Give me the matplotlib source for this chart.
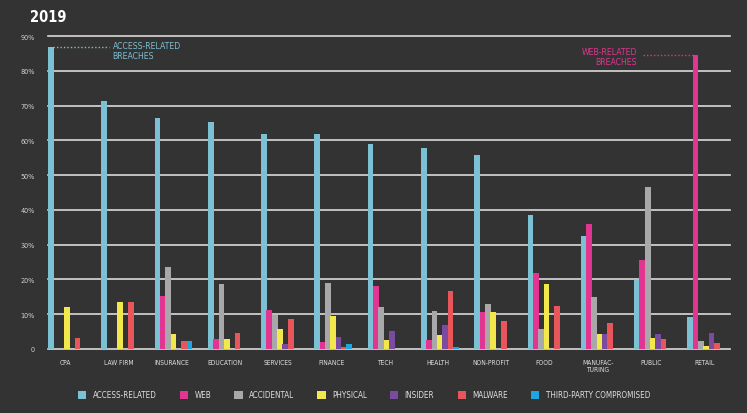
"""Breach types by industry, 2019 — grouped bar chart on a dark background."""

import numpy as np
import matplotlib
matplotlib.use('Agg')
import matplotlib.pyplot as plt
from matplotlib.patches import Patch

# --- data (percent of breaches) ---
industries = ["CPA", "LAW FIRM", "INSURANCE", "EDUCATION", "SERVICES", "FINANCE", "TECH",
              "HEALTH", "NON-PROFIT", "FOOD", "MANUFAC-\nTURING", "PUBLIC", "RETAIL"]
series_names = ["ACCESS-RELATED", "WEB", "ACCIDENTAL", "PHYSICAL", "INSIDER", "MALWARE",
                "THIRD-PARTY COMPROMISED"]

access     = [86.8, 71.3, 66.4, 65.2, 61.8, 61.8, 58.9, 57.8, 55.7, 38.5, 32.5, 19.8, 9.2]
web        = [0, 0, 15.3, 2.9, 11.3, 2.0, 18.2, 2.7, 10.6, 21.8, 35.9, 25.6, 84.5]
accidental = [0, 0, 23.6, 18.7, 9.8, 19.0, 12.1, 10.9, 12.9, 5.7, 15.0, 46.6, 2.3]
physical   = [12.2, 13.5, 4.4, 2.9, 5.8, 9.5, 2.7, 4.0, 10.7, 18.7, 4.3, 3.2, 0.9]
insider    = [0, 0, 0, 0, 1.4, 3.4, 5.2, 6.9, 0, 0, 4.3, 4.3, 4.6]
malware    = [3.2, 13.5, 2.3, 4.6, 8.6, 0.7, 0, 16.7, 8.0, 12.4, 7.6, 2.9, 1.7]
third      = [0, 0, 2.3, 0, 0, 1.4, 0, 0.7, 0, 0, 0, 0, 0]

yticks = [0, 10, 20, 30, 40, 50, 60, 70, 80, 90]
ytick_labels = ["0", "10%", "20%", "30%", "40%", "50%", "60%", "70%", "80%", "90%"]

colors = ["#7cc0d4", "#e23592", "#a8a7aa", "#f2e84c", "#7a4b9e", "#e8555b", "#1fa5e2"]
BG = "#333333"
GRID = "#d9d9d9"
FONT = dict(family="DejaVu Sans", stretch="condensed")

all_series = [access, web, accidental, physical, insider, malware, third]

fig = plt.figure(figsize=(7.47, 4.14), dpi=100, facecolor=BG)
ax = fig.add_axes([47.5 / 747, 64 / 414, (730 - 47.5) / 747, (350 - 37) / 414])
ax.set_facecolor(BG)

slot = 0.1
x = np.arange(len(industries))

for yv in yticks:
    ax.axhline(yv, color=GRID, lw=1.2, zorder=1, clip_on=False)

for j, (vals, c) in enumerate(zip(all_series, colors)):
    ax.bar(x + j * slot, vals, width=slot * 1.08, align='edge', color=c, zorder=2,
           linewidth=0)

ax.set_xlim(-0.01, 12.8)
ax.set_ylim(0, 90)
for s in ax.spines.values():
    s.set_visible(False)

ax.set_yticks(yticks)
ax.set_yticklabels(ytick_labels, color="#d0d0d0", fontsize=5.2, **FONT)
ax.set_xticks(x + 0.32)
ax.set_xticklabels(industries, color="#e0e0e0", fontsize=4.8, linespacing=1.3, va='top', **FONT)
ax.tick_params(length=0, pad=9)
ax.tick_params(axis='x', pad=7)

# callouts
ax.plot([slot, 1.15], [access[0], access[0]], ls=(0, (1, 1.5)), color="#7cc0d4", lw=1.0, zorder=3)
ax.text(1.21, 88.6, "ACCESS-RELATED\nBREACHES", color="#7cc0d4", fontsize=6.2,
        va='top', ha='left', linespacing=1.1, **FONT)
ax.plot([11.17, 12 + slot], [web[12], web[12]], ls=(0, (1, 1.5)), color="#e23592", lw=1.0, zorder=3)
ax.text(11.05, 86.8, "WEB-RELATED\nBREACHES", color="#e23592", fontsize=6.2,
        va='top', ha='right', linespacing=1.1, **FONT)

fig.text(30 / 747, 1 - 18 / 414, "2019", color="white", fontsize=10.5, fontweight='bold',
         va='center', ha='left', **FONT)

handles = [Patch(facecolor=c, edgecolor='none') for c in colors]
leg = fig.legend(handles, series_names, loc='center left', bbox_to_anchor=(71 / 747, 1 - 396 / 414),
                 ncol=7, frameon=False, handlelength=1.0, handleheight=1.2, handletextpad=0.8,
                 columnspacing=2.9, prop=dict(size=5.8, **FONT))
for t in leg.get_texts():
    t.set_color("#e0e0e0")

plt.savefig("out.png", dpi=100, facecolor=BG)
plt.close(fig)
